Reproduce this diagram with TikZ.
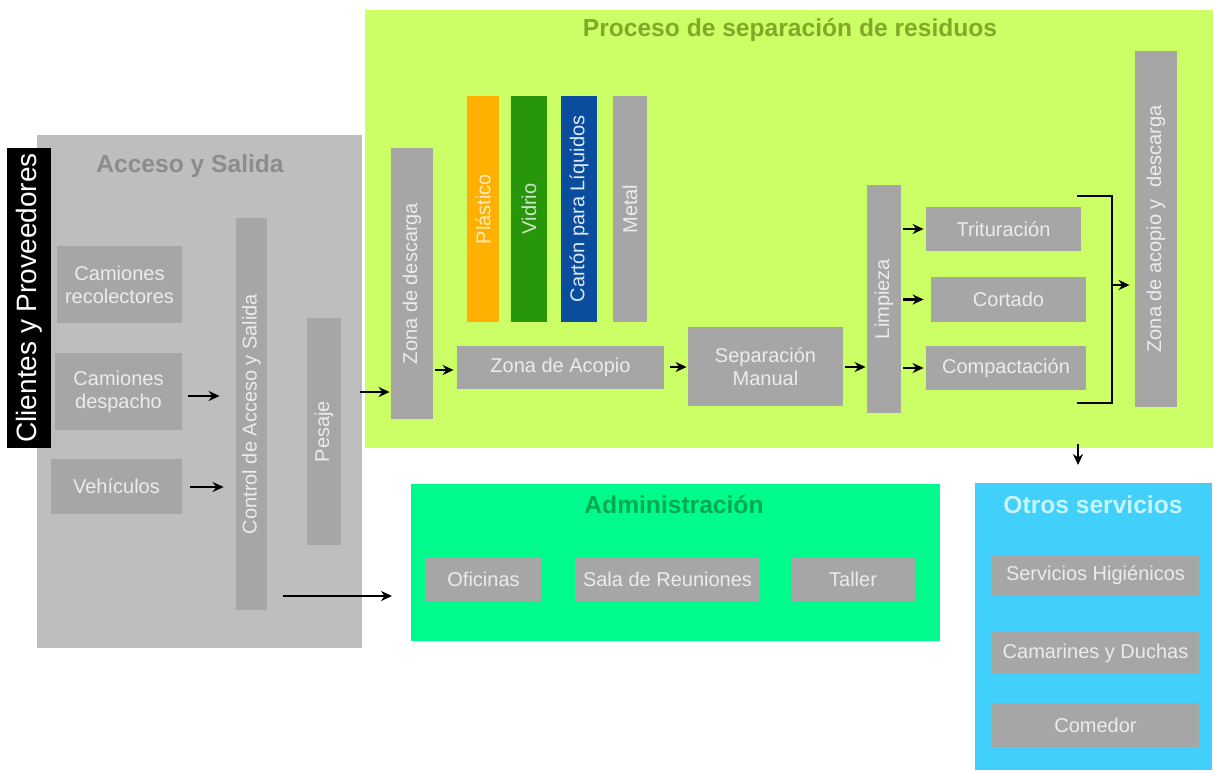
\documentclass[tikz,border=0pt]{standalone}
\usepackage{fontspec}
\usepackage{graphicx}
\setmainfont{Liberation Sans}
\usetikzlibrary{arrows.meta}
\definecolor{boxgray}{RGB}{166,166,166}
\definecolor{panelgray}{RGB}{190,190,190}
\definecolor{procgreen}{RGB}{204,255,102}
\definecolor{admgreen}{RGB}{0,250,140}
\definecolor{otroblue}{RGB}{64,208,250}
\definecolor{plastorange}{RGB}{255,176,0}
\definecolor{vidriogreen}{RGB}{40,150,10}
\definecolor{cartonblue}{RGB}{10,76,158}
\definecolor{accttl}{RGB}{140,140,140}
\definecolor{procttl}{RGB}{130,168,40}
\definecolor{admttl}{RGB}{0,170,80}
\definecolor{otrottl}{RGB}{200,244,255}
\definecolor{boxtxt}{RGB}{236,236,236}
\tikzset{
  box/.style={rectangle, fill=boxgray, text=boxtxt, inner sep=0pt, align=center,
    font=\fontsize{10}{11.5}\selectfont},
  panel/.style={rectangle, inner sep=0pt, anchor=north west},
  ttl/.style={font=\bfseries\fontsize{12.3}{14}\selectfont, inner sep=0pt},
  arr/.style={-{Stealth[length=5.5pt,width=5pt]}, line width=1.1pt},
  brk/.style={line width=1.1pt},
}
\begin{document}
\begin{tikzpicture}[x=0.5pt,y=-0.5pt]
\useasboundingbox[fill=white] (0,0) rectangle (1214,772);
% panels
\node[panel, fill=panelgray, minimum width=162.5pt, minimum height=256.5pt] (acceso) at (37,135) {};
\node[panel, fill=procgreen, minimum width=424pt, minimum height=219pt] (proceso) at (365,10) {};
\node[panel, fill=admgreen, minimum width=264.5pt, minimum height=78.5pt] (admin) at (411,484) {};
\node[panel, fill=otroblue, minimum width=118.5pt, minimum height=143.5pt] (otros) at (975,483) {};
% titles
\node[ttl, text=accttl] (tacc) at (190,166) {Acceso y Salida};
\node[ttl, text=procttl] (tproc) at (790,30) {Proceso de separación de residuos};
\node[ttl, text=admttl] (tadm) at (674,505) {Administración};
\node[ttl, text=otrottl] (totr) at (1093,505) {Otros servicios};
% clientes
\node[rectangle, fill=black, text=white, inner sep=0pt, minimum width=22pt, minimum height=150pt,
  font=\fontsize{14}{16}\selectfont] (cli) at (29,298) {\rotatebox{90}{Clientes y Proveedores}};
% acceso boxes
\node[box, minimum width=62.5pt, minimum height=38.5pt] (cr) at (119.5,284.5) {Camiones\\recolectores};
\node[box, minimum width=63.5pt, minimum height=38.5pt] (cd) at (118.5,391.5) {Camiones\\despacho};
\node[box, minimum width=65.5pt, minimum height=27.5pt] (veh) at (116.5,486.5) {Vehículos};
\node[box, minimum width=15.5pt, minimum height=196pt] (control) at (251.5,414) {\rotatebox{90}{Control de Acceso y Salida}};
\node[box, minimum width=17pt, minimum height=113.5pt] (pesaje) at (324,431.5) {\rotatebox{90}{Pesaje}};
% proceso boxes
\node[box, minimum width=21pt, minimum height=135.5pt] (zdesc) at (412,283.5) {\rotatebox{90}{Zona de descarga}};
\node[box, fill=plastorange, text={rgb,255:red,255;green,236;blue,190}, minimum width=16pt, minimum height=113pt] (plast) at (483,209) {\rotatebox{90}{Plástico}};
\node[box, fill=vidriogreen, text={rgb,255:red,205;green,228;blue,200}, minimum width=18pt, minimum height=113pt] (vidrio) at (529,209) {\rotatebox{90}{Vidrio}};
\node[box, fill=cartonblue, text={rgb,255:red,220;green,232;blue,246}, minimum width=18pt, minimum height=113pt] (carton) at (579,209) {\rotatebox{90}{Cartón para Líquidos}};
\node[box, minimum width=17pt, minimum height=113pt] (metal) at (630,209) {\rotatebox{90}{Metal}};
\node[box, minimum width=103.5pt, minimum height=21.5pt] (zacopio) at (560.5,367.5) {Zona de Acopio};
\node[box, minimum width=77.5pt, minimum height=39.5pt] (sepman) at (765.5,366.5) {Separación\\Manual};
\node[box, minimum width=17pt, minimum height=114pt] (limp) at (884,299) {\rotatebox{90}{Limpieza}};
\node[box, minimum width=77.5pt, minimum height=22pt] (trit) at (1003.5,229) {Trituración};
\node[box, minimum width=77.5pt, minimum height=22.5pt] (cort) at (1008.5,299.5) {Cortado};
\node[box, minimum width=80pt, minimum height=22pt] (comp) at (1006,368) {Compactación};
\node[box, minimum width=21pt, minimum height=178pt] (zad) at (1156,229) {\rotatebox{90}{Zona de acopio y\ \ descarga}};
% admin boxes
\node[box, minimum width=58.5pt, minimum height=22pt] (ofi) at (483.5,579) {Oficinas};
\node[box, minimum width=92.5pt, minimum height=22pt] (sala) at (667.5,579) {Sala de Reuniones};
\node[box, minimum width=62pt, minimum height=22pt] (taller) at (853,579) {Taller};
% otros boxes
\node[box, minimum width=103.5pt, minimum height=20.5pt] (sh) at (1095.5,575.5) {Servicios Higiénicos};
\node[box, minimum width=103.5pt, minimum height=21pt] (cam) at (1095.5,653) {Camarines y Duchas};
\node[box, minimum width=103.5pt, minimum height=22pt] (com) at (1095.5,725) {Comedor};
% arrows
\draw[arr, shorten <=3pt, shorten >=8pt] (cd.east |- 0,396) -- (control.west |- 0,396);
\draw[arr, shorten <=4pt, shorten >=6pt] (veh.east |- 0,487) -- (control.west |- 0,487);
\draw[arr, shorten <=8pt, shorten >=9.5pt] (control.east |- 0,596) -- (admin.west |- 0,596);
\draw[arr, shorten <=9.5pt, shorten >=0.5pt] (pesaje.east |- 0,392) -- (zdesc.west |- 0,392);
\draw[arr, shorten <=1pt, shorten >=1.5pt] (zdesc.east |- 0,370) -- (zacopio.west |- 0,370);
\draw[arr, shorten <=3pt, shorten >=0.5pt] (zacopio.east |- 0,367) -- (sepman.west |- 0,367);
\draw[arr, shorten <=1pt, shorten >=0.5pt] (sepman.east |- 0,367) -- (limp.west |- 0,367);
\draw[arr, shorten <=1pt, shorten >=1pt] (limp.east |- trit.west) -- (trit.west);
\draw[arr, shorten <=1pt, shorten >=3.5pt] (limp.east |- cort.west) -- (cort.west);
\draw[arr, shorten <=1pt, shorten >=1pt] (limp.east |- comp.west) -- (comp.west);
\coordinate (bk1) at (1077,196);
\coordinate (bk2) at (1112,196);
\coordinate (bk3) at (1112,403);
\coordinate (bk4) at (1077,403);
\coordinate (bkm) at (1112,285);
\draw[brk] (bk1) -- (bk2) -- (bk3) -- (bk4);
\draw[arr, shorten >=2.5pt] (bkm) -- (zad.west |- bkm);
\draw[arr, shorten <=-2.5pt, shorten >=9pt] (1078,0 |- proceso.south) -- (1078,0 |- otros.north);
\end{tikzpicture}
\end{document}
